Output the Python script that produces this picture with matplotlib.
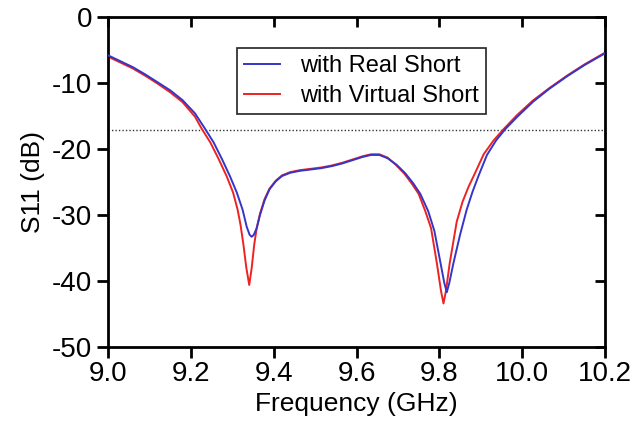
import numpy as np
import matplotlib
matplotlib.use("Agg")
import matplotlib.pyplot as plt

plt.rcParams['font.family'] = ['Liberation Sans', 'DejaVu Sans']

freq_real = [9.000, 9.030, 9.060, 9.090, 9.120, 9.150, 9.180, 9.210, 9.234, 9.255,
             9.275, 9.295, 9.311, 9.325, 9.335, 9.342, 9.347, 9.352, 9.359, 9.367,
             9.378, 9.390, 9.405, 9.420, 9.440, 9.464, 9.490, 9.515, 9.540, 9.565,
             9.590, 9.615, 9.635, 9.655, 9.675, 9.697, 9.718, 9.737, 9.754, 9.773,
             9.788, 9.802, 9.812, 9.818, 9.824, 9.834, 9.850, 9.866, 9.880, 9.895,
             9.915, 9.937, 9.959, 9.990, 10.027, 10.065, 10.108, 10.150, 10.200]
s11_real = [-5.8, -6.7, -7.6, -8.7, -9.9, -11.1, -12.6, -14.6, -16.9, -19.0,
            -21.5, -24.2, -26.6, -29.2, -31.8, -33.0, -33.3, -33.0, -32.0, -30.0,
            -27.8, -26.1, -24.9, -24.1, -23.6, -23.3, -23.1, -22.9, -22.6, -22.2,
            -21.7, -21.2, -20.9, -20.9, -21.4, -22.4, -23.7, -25.2, -26.8, -29.4,
            -32.4, -37.0, -40.3, -41.7, -40.3, -37.3, -33.0, -29.2, -26.5, -24.0,
            -20.9, -18.7, -17.0, -15.0, -12.8, -10.9, -9.0, -7.3, -5.5]

freq_virtual = [9.000, 9.030, 9.060, 9.090, 9.120, 9.150, 9.180, 9.210, 9.226, 9.247,
                9.267, 9.287, 9.302, 9.313, 9.320, 9.327, 9.334, 9.341, 9.347, 9.353,
                9.359, 9.367, 9.378, 9.390, 9.405, 9.420, 9.440, 9.464, 9.490, 9.515,
                9.540, 9.565, 9.590, 9.615, 9.635, 9.655, 9.675, 9.695, 9.715, 9.733,
                9.750, 9.766, 9.780, 9.794, 9.804, 9.810, 9.816, 9.825, 9.842, 9.856,
                9.870, 9.888, 9.907, 9.931, 9.955, 9.987, 10.025, 10.065, 10.108, 10.150,
                10.200]
s11_virtual = [-6.0, -6.9, -7.8, -8.9, -10.1, -11.4, -12.9, -15.1, -16.9, -19.0,
               -21.5, -24.2, -26.6, -29.2, -31.5, -34.5, -38.0, -40.6, -38.0, -34.5,
               -32.0, -29.8, -27.6, -26.0, -24.8, -24.0, -23.5, -23.2, -23.0, -22.8,
               -22.5, -22.1, -21.6, -21.1, -20.8, -20.8, -21.3, -22.4, -23.7, -25.2,
               -26.8, -29.4, -32.0, -37.3, -41.5, -43.4, -41.5, -37.3, -31.0, -28.0,
               -25.8, -23.4, -20.8, -18.7, -17.0, -14.9, -12.7, -10.8, -8.9, -7.2,
               -5.4]

threshold = -17.1
xticks = [9.0, 9.2, 9.4, 9.6, 9.8, 10.0, 10.2]
yticks = [0, -10, -20, -30, -40, -50]

fig = plt.figure(figsize=(6.33, 4.29), dpi=100)
ax = fig.add_axes([0.1706, 0.1911, 0.7852, 0.7693])

ax.plot(freq_real, s11_real, color='#3535c8', lw=1.4, label='with Real Short', zorder=3)
ax.plot(freq_virtual, s11_virtual, color='#ee2222', lw=1.4, label='with Virtual Short', zorder=2)
ax.axhline(threshold, color='#333333', lw=1.0, ls=(0, (1, 1.5)), zorder=1)

ax.set_xlim(9.0, 10.2)
ax.set_ylim(-50, 0)
ax.set_xticks(xticks)
ax.set_xticklabels(['%.1f' % v for v in xticks])
ax.set_yticks(yticks)
ax.set_yticklabels(['%d' % v for v in yticks])
ax.tick_params(direction='out', length=8, width=2, labelsize=20)
ax.tick_params(axis='x', pad=2)
ax.tick_params(axis='y', pad=3.5)
for s in ax.spines.values():
    s.set_linewidth(2)

# mirrored ticks on top and right point inward
top = ax.secondary_xaxis('top')
top.set_xticks(xticks)
top.tick_params(direction='in', length=7, width=2, labeltop=False)
right = ax.secondary_yaxis('right')
right.set_yticks(yticks)
right.tick_params(direction='in', length=7, width=2, labelright=False)

ax.set_xlabel('Frequency (GHz)', fontsize=19, labelpad=4)
ax.set_ylabel('S11 (dB)', fontsize=19, labelpad=5)

leg = ax.legend(loc='upper left', bbox_to_anchor=(0.26, 0.906), borderaxespad=0,
                fontsize=17, fancybox=False, framealpha=1, edgecolor='#222222',
                handlelength=1.5, handletextpad=0.85, borderpad=0.3, labelspacing=0.35)
leg.get_frame().set_linewidth(1.2)

fig.savefig('out.png', dpi=100)
